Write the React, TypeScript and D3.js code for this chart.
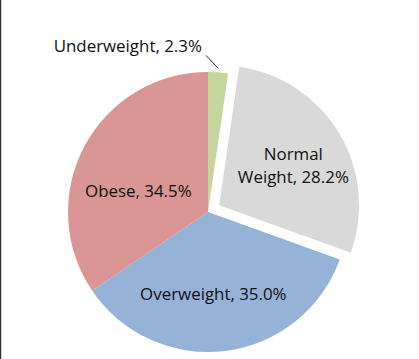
import React from "react";
import * as d3 from "d3";

const categories = ["Underweight", "Normal Weight", "Overweight", "Obese"];
const values = [2.3, 28.2, 35.0, 34.5];
const labelLines = [["Underweight, 2.3%"], ["Normal", "Weight, 28.2%"], ["Overweight, 35.0%"], ["Obese, 34.5%"]];
const colors = ["#c3d69b", "#d9d9d9", "#95b3d7", "#d99694"];
const exploded = [0, 13, 0, 0];
// label placement: [radius fraction, angle offset (deg)]
const labelPlace = [[0, 0], [0.6, 3], [0.59, 3.5], [0.52, -11]];

const W = 419, H = 359;
const cx = 208, cy = 212, R = 140;

export default function App() {
  const pie = d3.pie<number>().sort(null).value((d) => d)(values);
  const arc = d3.arc<d3.PieArcDatum<number>>().innerRadius(0).outerRadius(R);
  const font = "'Open Sans', sans-serif";
  const fs = 16.9;
  return (
    <svg width={W} height={H} style={{ position: "absolute", left: 0, top: 0, background: "#fff" }}>
      <line x1={0.5} y1={0} x2={0.5} y2={H} stroke="#333" strokeWidth={1.5} />
      <g transform={`translate(${cx},${cy})`}>
        {pie.map((p, i) => {
          const mid = (p.startAngle + p.endAngle) / 2;
          const ox = Math.sin(mid) * exploded[i];
          const oy = -Math.cos(mid) * exploded[i];
          return (
            <path key={categories[i]} d={arc(p) || ""} fill={colors[i]} transform={`translate(${ox},${oy})`} />
          );
        })}
        {pie.map((p, i) => {
          const mid = (p.startAngle + p.endAngle) / 2;
          const ox = Math.sin(mid) * exploded[i];
          const oy = -Math.cos(mid) * exploded[i];
          if (labelPlace[i][0] === 0) {
            // outside label with leader line
            const a = mid;
            const x2 = Math.sin(a) * (R + 4);
            const y2 = -Math.cos(a) * (R + 4);
            const x1 = x2 - 12.5;
            const y1 = y2 - 13;
            return (
              <g key={"l" + i}>
                <line x1={x1} y1={y1} x2={x2} y2={y2} stroke="#222" strokeWidth={1} />
                <text x={x1 - 4} y={y1 - 3} textAnchor="end" fontFamily={font} fontSize={fs} fill="#111">
                  {labelLines[i][0]}
                </text>
              </g>
            );
          }
          const a = mid + (labelPlace[i][1] * Math.PI) / 180;
          const r = labelPlace[i][0] * R;
          const lx = ox + Math.sin(a) * r;
          const ly = oy - Math.cos(a) * r;
          const n = labelLines[i].length;
          const lh = 23;
          return (
            <text key={"l" + i} x={lx} y={ly} textAnchor="middle" fontFamily={font} fontSize={fs} fill="#111">
              {labelLines[i].map((t, j) => (
                <tspan key={j} x={lx} y={ly + (j - (n - 1) / 2) * lh} dy="0.35em">
                  {t}
                </tspan>
              ))}
            </text>
          );
        })}
      </g>
    </svg>
  );
}
